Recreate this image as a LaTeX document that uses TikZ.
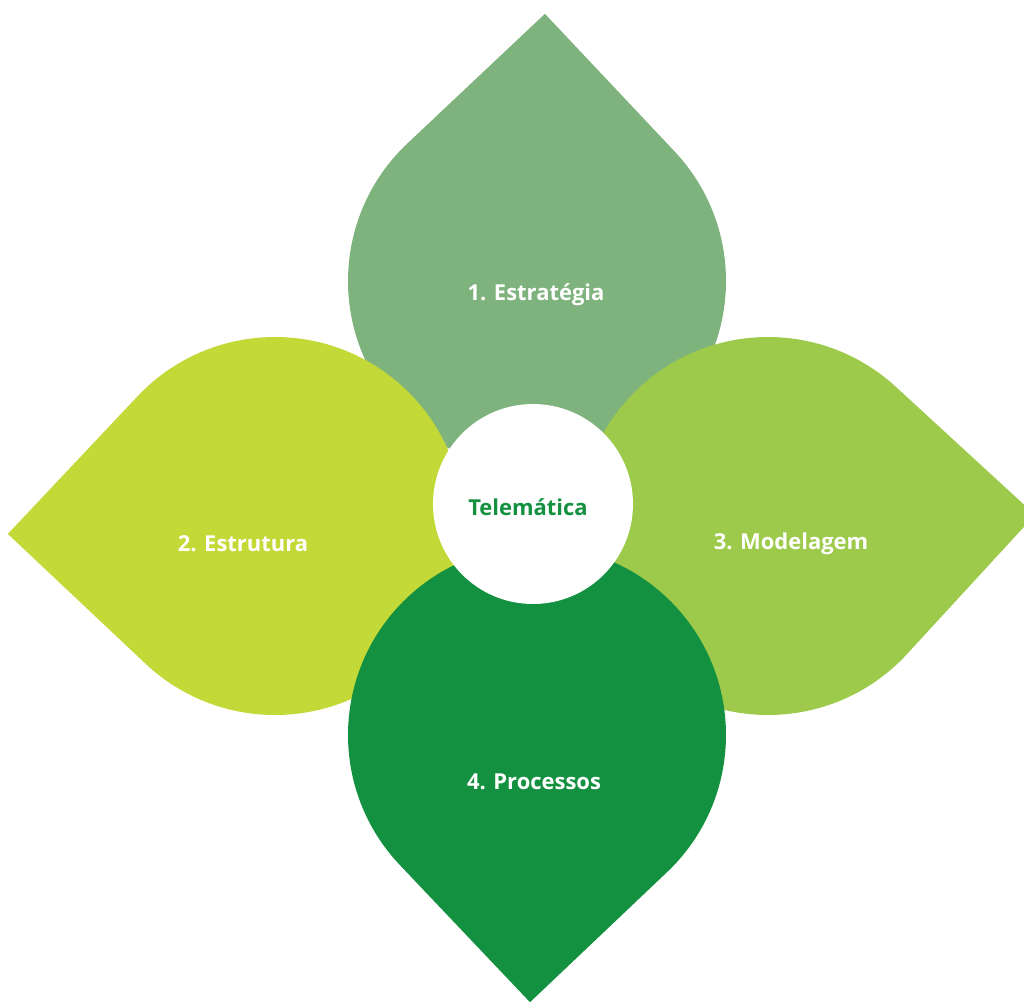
\documentclass[tikz,border=0pt]{standalone}
\usepackage{fontspec}
\setmainfont{Open Sans}
\usepackage{tikz}
\usetikzlibrary{calc, positioning}
\definecolor{leafsage}{RGB}{127,179,125}
\definecolor{leaflime}{RGB}{194,217,55}
\definecolor{leafgrass}{RGB}{157,202,75}
\definecolor{leafdeep}{RGB}{20,145,64}
\tikzset {
    leaf/.style = {
        fill = #1,
        draw = none
    },
    leaf label/.style = {
        text = white,
        font = \bfseries\fontsize{12.5}{15}\selectfont % same face on every leaf
    },
    hub/.style = {
        shape = circle,
        fill = white,
        inner sep = 0pt,
        minimum size = 4cm
    },
    hub label/.style = {
        text = leafdeep,
        font = \bfseries\fontsize{12.5}{15}\selectfont
    }
}
\begin{document}
\begin{tikzpicture}[x=0.02cm, y=-0.02cm]
        \path [use as bounding box, clip] (0, 0) rectangle (1024, 1001);

        % Leaf centres (radius 189, tip at 267.3 from the centre)
        \coordinate (c1) at (537, 281);
        \coordinate (c2) at (275, 526);
        \coordinate (c3) at (768, 526);
        \coordinate (c4) at (537, 735);

        % Top leaf sits behind, side leaves over it, bottom leaf over those
        \fill [leaf=leafsage]  ($(c1)+(-88.3:267.3)$) -- ($(c1)+(-43.3:189)$)
            arc [start angle=-43.3, end angle=226.7, radius=189] -- cycle;
        \fill [leaf=leaflime]  ($(c2)+(178.3:267.3)$) -- ($(c2)+(223.3:189)$)
            arc [start angle=223.3, end angle=493.3, radius=189] -- cycle;
        \fill [leaf=leafgrass] ($(c3)+(-2.4:267.3)$) -- ($(c3)+(42.6:189)$)
            arc [start angle=42.6, end angle=312.6, radius=189] -- cycle;
        \fill [leaf=leafdeep]  ($(c4)+(91.5:267.3)$) -- ($(c4)+(136.5:189)$)
            arc [start angle=136.5, end angle=406.5, radius=189] -- cycle;

        % Centre disc and leaf titles
        \node [hub] at (533, 504)                   (hub)       {};
        \node [hub label] at (528, 507)             (core)      {Telemática};
        \node [leaf label] at (536, 295)            (strategy)  {1. Estratégia};
        \node [leaf label] at (243, 544)            (structure) {2. Estrutura};
        \node [leaf label] at (791, 544)            (modeling)  {3. Modelagem};
        \node [leaf label] at (534, 782)            (process)   {4. Processos};
    \end{tikzpicture}
\end{document}
